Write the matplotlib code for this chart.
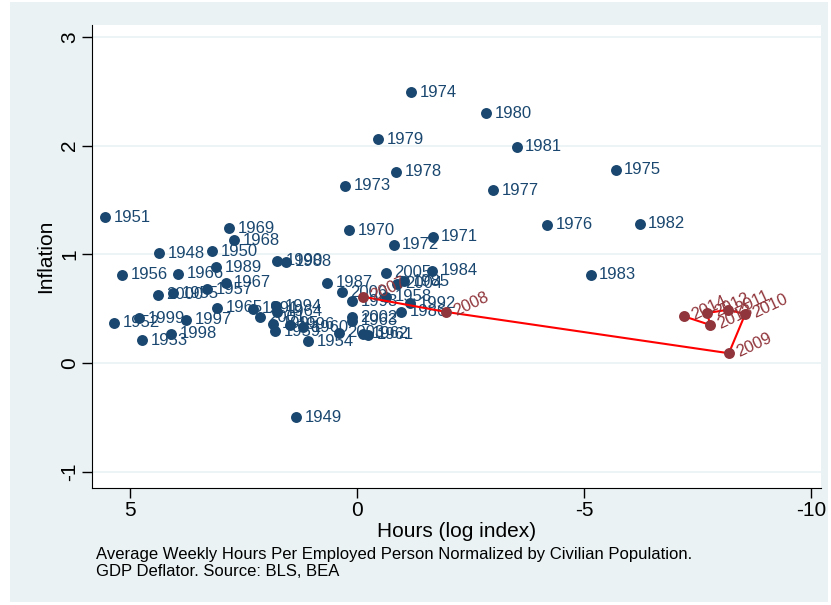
import matplotlib
matplotlib.use("Agg")
from matplotlib import pyplot as plt
from matplotlib.patches import Rectangle

plt.rcParams['font.family'] = ['Liberation Sans', 'DejaVu Sans']

# 1948-2006
years = list(range(1948, 2007))
hours = [4.36, 1.34, 3.19, 5.55, 5.35, 4.74, 1.08, 4.05, 5.18, 3.30,
         -0.64, 1.81, 1.19, -0.24, -0.13, 0.11, 1.76, 3.08, 3.94, 2.89,
         2.71, 2.82, 0.18, -1.67, -0.81, 0.26, -1.19, -5.70, -4.19, -3.00,
         -0.86, -0.46, -2.84, -3.52, -6.23, -5.15, -1.65, -1.04, -0.97, 0.66,
         1.56, 3.11, 1.76, 2.29, -1.17, 0.11, 1.78, 1.85, 1.48, 3.77,
         4.10, 4.80, 4.38, 2.14, 0.11, 0.40, -0.88, -0.64, 0.33]
infl = [1.01, -0.50, 1.03, 1.34, 0.37, 0.21, 0.20, 0.64, 0.81, 0.68,
        0.61, 0.29, 0.33, 0.26, 0.27, 0.39, 0.47, 0.51, 0.82, 0.74,
        1.13, 1.24, 1.22, 1.16, 1.09, 1.63, 2.49, 1.78, 1.27, 1.59,
        1.76, 2.06, 2.30, 1.99, 1.28, 0.81, 0.85, 0.75, 0.47, 0.74,
        0.93, 0.88, 0.94, 0.50, 0.55, 0.57, 0.52, 0.36, 0.35, 0.40,
        0.27, 0.41, 0.63, 0.42, 0.42, 0.28, 0.73, 0.83, 0.65]

# 2007-2014
years_r = list(range(2007, 2015))
hours_r = [-0.13, -1.96, -8.19, -8.55, -8.17, -7.71, -7.78, -7.20]
infl_r = [0.61, 0.47, 0.09, 0.45, 0.49, 0.46, 0.35, 0.43]

navy = '#1a476f'
cran = '#90353b'
bg = '#eaf2f3'

fig = plt.figure(figsize=(8.31, 6.05), dpi=100)
fig.patch.set_facecolor('white')
fig.patches.append(Rectangle((10/831., 3/605.), 818/831., 600/605.,
                             transform=fig.transFigure, facecolor=bg,
                             edgecolor='none', zorder=-10))
ax = fig.add_axes([92/831., 1 - 488/605., 729/831., 463/605.])
ax.set_facecolor('white')

for yv in [-1, 0, 1, 2, 3]:
    ax.axhline(yv, color=bg, lw=1.2, zorder=0)

ax.scatter(hours, infl, s=62, color=navy, zorder=3, linewidths=0)
for i in range(len(years)):
    ax.annotate(str(years[i]), (hours[i], infl[i]), xytext=(6, 0),
                textcoords='offset points', ha='left', va='center',
                color=navy, fontsize=12, zorder=4)

ax.plot(hours_r, infl_r, color='red', lw=1.5, zorder=5)
ax.scatter(hours_r, infl_r, s=62, color=cran, zorder=6, linewidths=0)
for i in range(len(years_r)):
    ax.annotate(str(years_r[i]), (hours_r[i], infl_r[i]), xytext=(6, 0),
                textcoords='offset points', ha='left', va='center',
                rotation=25, rotation_mode='anchor',
                color=cran, fontsize=12, zorder=7)

ax.set_xlim(5.84, -10.22)
ax.set_ylim(-1.15, 3.11)
ax.set_xticks([5, 0, -5, -10])
ax.set_xticklabels(['5', '0', '-5', '-10'])
ax.set_yticks([-1, 0, 1, 2, 3])
ax.set_yticklabels(['-1', '0', '1', '2', '3'], rotation=90, va='center')
ax.tick_params(direction='out', length=7, width=1, labelsize=15, pad=2)
ax.spines['top'].set_visible(False)
ax.spines['right'].set_visible(False)
ax.spines['left'].set_color('black')
ax.spines['bottom'].set_color('black')

ax.set_xlabel("Hours (log index)", fontsize=15, labelpad=2)
ax.set_ylabel("Inflation", fontsize=15, labelpad=4)

fig.text(96/831., 1 - 555/605., "Average Weekly Hours Per Employed Person Normalized by Civilian Population.",
         fontsize=12, va='center', ha='left')
fig.text(96/831., 1 - 571/605., "GDP Deflator. Source: BLS, BEA",
         fontsize=12, va='center', ha='left')

plt.savefig('out.png', dpi=100, facecolor=fig.get_facecolor())
